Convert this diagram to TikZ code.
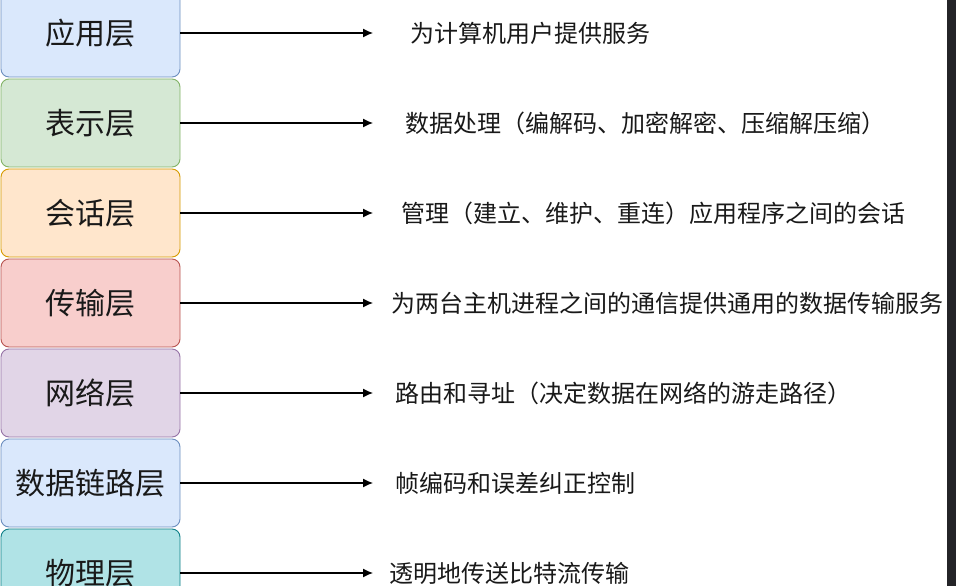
\documentclass[tikz,border=0pt]{standalone}
\usepackage{fontspec}
\setmainfont{Noto Sans CJK SC}
\usetikzlibrary{arrows.meta,positioning}
\definecolor{appfill}{HTML}{DAE8FC}
\definecolor{appline}{HTML}{6C8EBF}
\definecolor{prefill}{HTML}{D5E8D4}
\definecolor{preline}{HTML}{82B366}
\definecolor{sesfill}{HTML}{FFE6CC}
\definecolor{sesline}{HTML}{D79B00}
\definecolor{trafill}{HTML}{F8CECC}
\definecolor{traline}{HTML}{B85450}
\definecolor{netfill}{HTML}{E1D5E7}
\definecolor{netline}{HTML}{9673A6}
\definecolor{phyfill}{HTML}{B0E3E6}
\definecolor{phyline}{HTML}{0E8088}
\definecolor{edgedark}{HTML}{242428}
\tikzset{
  layer/.style={draw, rounded corners=8pt, line width=0.9pt, minimum width=179pt, minimum height=88pt, inner sep=0pt, text=black!90, font=\fontsize{30}{34}\selectfont},
  duty/.style={anchor=west, inner sep=0pt, text=black!90, font=\fontsize{24}{28}\selectfont},
  link/.style={-{Latex[length=10pt,width=9pt]}, line width=1.2pt}
}

\begin{document}
\begin{tikzpicture}[x=1pt, y=1pt]
    \fill[white] (0,0) rectangle (956,586);
    \useasboundingbox (0,0) rectangle (956,586);
    \fill[edgedark] (947,0) rectangle (956,586);
    % layers
    \node[layer, fill=appfill, draw=appline] (app) at (90.5,553) {应用层};
    \node[layer, fill=prefill, draw=preline] (pre) at (90.5,463) {表示层};
    \node[layer, fill=sesfill, draw=sesline] (ses) at (90.5,373) {会话层};
    \node[layer, fill=trafill, draw=traline] (tra) at (90.5,283) {传输层};
    \node[layer, fill=netfill, draw=netline] (net) at (90.5,193) {网络层};
    \node[layer, fill=appfill, draw=appline] (dat) at (90.5,103) {数据链路层};
    \node[layer, fill=phyfill, draw=phyline] (phy) at (90.5,13) {物理层};
    % what each layer does
    \node[duty] (appd) at (410,553) {为计算机用户提供服务};
    \node[duty] (pred) at (405,463) {数据处理（编解码、加密解密、压缩解压缩）};
    \node[duty] (sesd) at (401,373) {管理（建立、维护、重连）应用程序之间的会话};
    \node[duty] (trad) at (391,283) {为两台主机进程之间的通信提供通用的数据传输服务};
    \node[duty] (netd) at (395,193) {路由和寻址（决定数据在网络的游走路径）};
    \node[duty] (datd) at (395,103) {帧编码和误差纠正控制};
    \node[duty] (phyd) at (389,13) {透明地传送比特流传输};
    \foreach \l/\y in {app/553, pre/463, ses/373, tra/283, net/193, dat/103, phy/13} {
      \coordinate (\l t) at (373,\y);
      \draw[link] (\l) -- (\l t);
    }
\end{tikzpicture}
\end{document}
